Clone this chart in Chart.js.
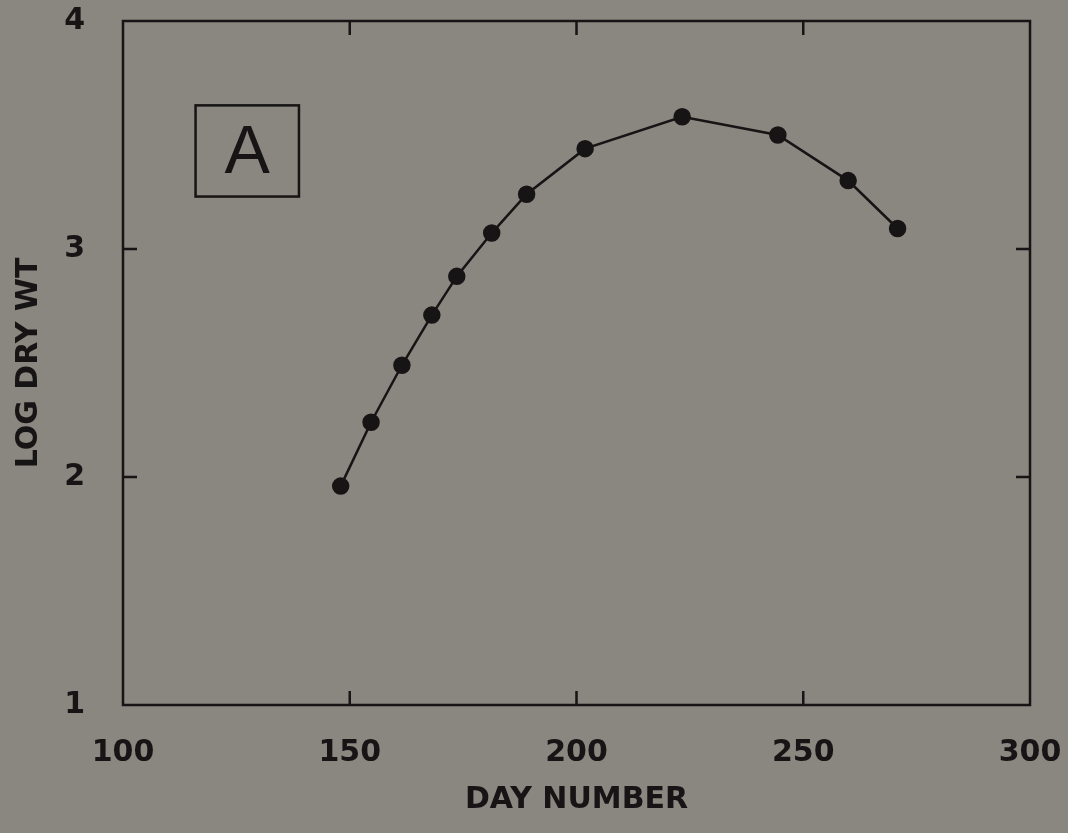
<!DOCTYPE html>
<html>
<head>
<meta charset="utf-8">
<title>Log dry weight by day number</title>
<script src="https://cdn.jsdelivr.net/npm/chart.js@4.4.1/dist/chart.umd.min.js"></script>
<style>
    html, body { margin: 0; padding: 0; background: #8a8680; }
    #wrap { width: 1068px; height: 833px; }
</style>
</head>
<body>
<div id="wrap"><canvas id="chart" width="1068" height="833"></canvas></div>
<script>
// Values
const dayNumbers = [148, 154.7, 161.5, 168.1, 173.6, 181.3, 189, 201.9, 223.3, 244.4, 259.9, 270.8];
const logDryWt = [1.96, 2.24, 2.49, 2.71, 2.88, 3.07, 3.24, 3.44, 3.58, 3.50, 3.30, 3.09];
const xTicks = [100, 150, 200, 250, 300];
const yTicks = [1, 2, 3, 4];
const panelLabel = 'A';

const ink = '#161414';
const font = { family: 'DejaVu Sans', weight: 'bold', size: 30 };

// paper background
const background = {
    id: 'background',
    beforeDraw(chart) {
        const ctx = chart.ctx;
        ctx.save();
        ctx.fillStyle = '#8a8680';
        ctx.fillRect(0, 0, chart.width, chart.height);
        ctx.restore();
    }
};

// closed frame with ticks pointing inward, plus the boxed panel letter
const frame = {
    id: 'frame',
    afterDraw(chart) {
        const ctx = chart.ctx;
        const a = chart.chartArea;
        const x = chart.scales.x;
        const y = chart.scales.y;
        const len = 14;
        ctx.save();
        ctx.strokeStyle = ink;
        ctx.lineWidth = 2.5;
        ctx.strokeRect(a.left, a.top, a.right - a.left, a.bottom - a.top);

        ctx.beginPath();
        xTicks.slice(1, -1).forEach(v => {
            const px = x.getPixelForValue(v);
            ctx.moveTo(px, a.bottom);
            ctx.lineTo(px, a.bottom - len);
            ctx.moveTo(px, a.top);
            ctx.lineTo(px, a.top + len);
        });
        yTicks.slice(1, -1).forEach(v => {
            const py = y.getPixelForValue(v);
            ctx.moveTo(a.left, py);
            ctx.lineTo(a.left + len, py);
            ctx.moveTo(a.right, py);
            ctx.lineTo(a.right - len, py);
        });
        ctx.stroke();

        // panel label box, placed in data units
        const bx1 = x.getPixelForValue(116), bx2 = x.getPixelForValue(138.8);
        const by1 = y.getPixelForValue(3.63), by2 = y.getPixelForValue(3.23);
        ctx.lineWidth = 2.5;
        ctx.strokeRect(bx1, by1, bx2 - bx1, by2 - by1);
        ctx.fillStyle = ink;
        ctx.font = '68px "Liberation Sans"';
        ctx.textAlign = 'center';
        ctx.textBaseline = 'middle';
        ctx.fillText(panelLabel, (bx1 + bx2) / 2, (by1 + by2) / 2 + 3);
        ctx.restore();
    }
};

new Chart(document.getElementById('chart'), {
    type: 'scatter',
    data: {
        datasets: [{
            data: dayNumbers.map((d, i) => ({ x: d, y: logDryWt[i] })),
            showLine: true,
            tension: 0,
            borderColor: ink,
            borderWidth: 2.5,
            backgroundColor: ink,
            pointBackgroundColor: ink,
            pointBorderColor: ink,
            pointRadius: 7.5,
            pointHoverRadius: 7.5
        }]
    },
    options: {
        responsive: false,
        animation: false,
        layout: { padding: { top: 21, right: 38, left: 0, bottom: 0 } },
        plugins: {
            legend: { display: false },
            tooltip: { enabled: false }
        },
        scales: {
            x: {
                type: 'linear',
                min: 100,
                max: 300,
                afterBuildTicks(scale) { scale.ticks = xTicks.map(v => ({ value: v })); },
                afterFit(scale) {
                    scale.height = 128;
                    scale.paddingLeft = 0;
                    scale.paddingRight = 0;
                },
                grid: { display: false },
                border: { display: false },
                ticks: { color: ink, font: font, padding: 22, maxRotation: 0 },
                title: {
                    display: true,
                    text: 'DAY NUMBER',
                    color: ink,
                    font: font,
                    padding: { top: 0, bottom: 15 }
                }
            },
            y: {
                type: 'linear',
                min: 1,
                max: 4,
                afterBuildTicks(scale) { scale.ticks = yTicks.map(v => ({ value: v })); },
                afterFit(scale) {
                    scale.width = 123;
                    scale.paddingTop = 0;
                    scale.paddingBottom = 0;
                },
                grid: { display: false },
                border: { display: false },
                ticks: { color: ink, font: font, padding: 30 },
                title: {
                    display: true,
                    text: 'LOG DRY WT',
                    color: ink,
                    font: font,
                    padding: { top: 11, bottom: 0 }
                }
            }
        }
    },
    plugins: [background, frame]
});
</script>
</body>
</html>
